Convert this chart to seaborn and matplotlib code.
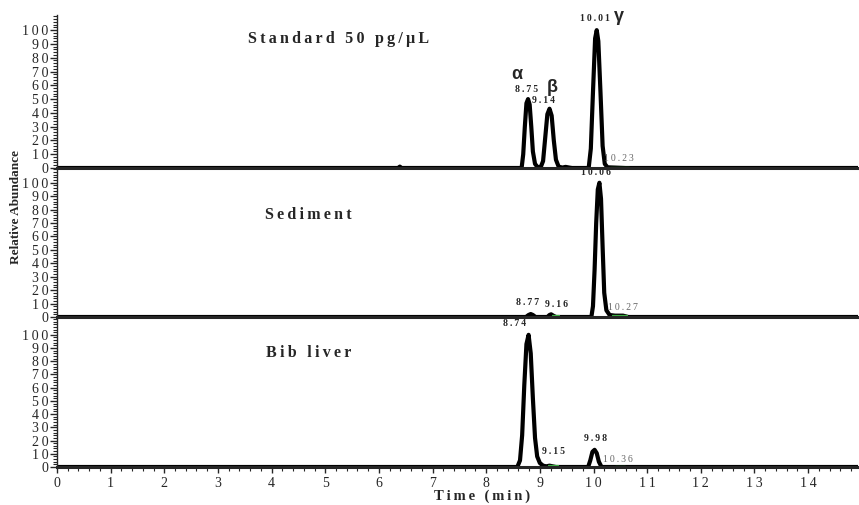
import matplotlib
matplotlib.use('Agg')
import matplotlib.pyplot as plt
import seaborn as sns
from matplotlib.ticker import MultipleLocator

# Dados dos cromatogramas (tempo em min, abundancia relativa em %)
std_time = [0.0, 6.36, 6.39, 6.42, 8.66, 8.69, 8.72, 8.75, 8.78, 8.81, 8.84, 8.87, 8.91, 8.96,
            9.02, 9.06, 9.10, 9.14, 9.18, 9.22, 9.26, 9.30, 9.35, 9.42, 9.48, 9.55, 9.60,
            9.91, 9.95, 9.99, 10.03, 10.06, 10.09, 10.13, 10.17, 10.21, 10.26, 10.40, 10.60, 14.95]
std_abund = [0, 0, 1, 0, 0, 10, 30, 47, 50, 46, 30, 12, 3, 0.5,
             1, 5, 22, 39, 43, 38, 20, 6, 1, 0.3, 0.8, 0.3, 0,
             0, 14, 55, 94, 100, 92, 55, 16, 3, 0.5, 0.3, 0, 0]

sed_time = [0.0, 8.74, 8.79, 8.83, 8.87, 8.92, 9.14, 9.18, 9.21, 9.25, 9.30,
            9.96, 9.99, 10.02, 10.05, 10.08, 10.11, 10.14, 10.17, 10.20, 10.24, 10.30,
            10.40, 10.55, 10.65, 14.95]
sed_abund = [0, 0, 1.5, 2.2, 1.5, 0, 0, 1.5, 2, 1, 0,
             0, 8, 35, 70, 95, 100, 88, 52, 18, 5, 1.5,
             1, 1, 0, 0]

bib_time = [0.0, 8.58, 8.63, 8.67, 8.71, 8.75, 8.79, 8.83, 8.87, 8.91, 8.95, 9.00, 9.06,
            9.12, 9.18, 9.24, 9.30, 9.90, 9.94, 9.98, 10.02, 10.06, 10.10, 10.15, 14.95]
bib_abund = [0, 0, 5, 24, 62, 93, 100, 86, 52, 22, 8, 3, 1,
             0.5, 1, 0.5, 0, 0, 5, 11.5, 13, 10.5, 4, 0, 0]

amostras = ['Standard 50 pg/μL', 'Sediment', 'Bib liver']

# rotulos dos picos: (tempo, altura, texto)
picos = [
    [(8.76, 54, '8.75'), (9.06, 46, '9.14'), (10.02, 105, '10.01')],
    [(10.04, 104, '10.06'), (8.78, 7.5, '8.77'), (9.31, 6, '9.16')],
    [(8.53, 105, '8.74'), (9.26, 8, '9.15'), (10.03, 18, '9.98')],
]
# rotulos pequenos em cinza com linha verde
menores = [(10.48, 3.5, '10.23'), (10.55, 4, '10.27'), (10.45, 2, '10.36')]
verdes = [
    [(10.30, 10.66, 1.0)],
    [(9.22, 9.36, 1.5), (10.35, 10.63, 1.5)],
    [(9.16, 9.33, 1.5), (10.40, 10.58, 1.0)],
]


def espacar(s, sep='\u2009'):
    # imita o espacamento entre letras do original
    return sep.join(s)


sns.set_style('ticks')
plt.rcParams['font.family'] = ['Liberation Serif', 'DejaVu Serif']

fig = plt.figure(figsize=(8.59, 5.05), dpi=100)
W, H = 859, 505
left, right = 57, 858
paineis = [(15, 168), (168, 317), (317, 467)]
ytops = [111, 111, 113.5]
dados = [(std_time, std_abund), (sed_time, sed_abund), (bib_time, bib_abund)]
axes = []
for i, (top, bot) in enumerate(paineis):
    ax = fig.add_axes([left / W, 1 - bot / H, (right - left) / W, (bot - top) / H])
    ax.patch.set_alpha(0)
    t, a = dados[i]
    sns.lineplot(x=t, y=a, ax=ax, color='black', linewidth=3.0, estimator=None,
                 sort=False)
    ax.set_xlim(0, 14.93)
    ax.set_ylim(0, ytops[i])
    ax.set_xlabel('')
    ax.set_ylabel('')
    for s in ['top', 'right']:
        ax.spines[s].set_visible(False)
    ax.spines['bottom'].set_linewidth(2.2)
    ax.spines['left'].set_linewidth(1.0)
    ax.yaxis.set_minor_locator(MultipleLocator(2))
    ax.set_yticks(range(0, 101, 10))
    ax.set_yticklabels([espacar(str(v)) for v in range(0, 101, 10)], fontsize=10)
    ax.tick_params(axis='y', which='major', length=5, width=1, pad=1)
    ax.tick_params(axis='y', which='minor', length=3, width=0.8)
    ax.xaxis.set_minor_locator(MultipleLocator(0.2))
    ax.set_xticks(range(0, 15))
    if i < 2:
        ax.tick_params(axis='x', which='both', length=0, labelbottom=False)
    else:
        ax.set_xticklabels([espacar(str(v)) for v in range(0, 15)], fontsize=10)
        ax.tick_params(axis='x', which='major', length=4, width=1, pad=3)
        ax.tick_params(axis='x', which='minor', length=3, width=0.8)
    for x0, x1, yv in verdes[i]:
        ax.plot([x0, x1], [yv, yv], color='#3cb043', linewidth=0.9)
    for x, y, txt in picos[i]:
        ax.text(x, y, espacar(txt), ha='center', va='bottom', fontsize=7,
                fontweight='bold', clip_on=False)
    x, y, txt = menores[i]
    ax.text(x, y, espacar(txt), ha='center', va='bottom', fontsize=7, color='#666666')
    axes.append(ax)

titulo_y = [88, 70, 80]
titulo_x = [3.56, 3.87, 3.9]
for ax, nome, x, y in zip(axes, amostras, titulo_x, titulo_y):
    ax.text(x, y, espacar(nome), fontsize=11.5, fontweight='bold', va='bottom')

# letras gregas dos isomeros
for x, y, g in [(8.57, 62, 'α'), (9.24, 52, 'β'), (10.47, 104, 'γ')]:
    axes[0].text(x, y, g, fontsize=13, fontweight='bold', ha='center', va='bottom',
                 family=['Liberation Sans', 'DejaVu Sans'], clip_on=False)

fig.text(16 / W, 1 - 207 / H, 'Relative Abundance', rotation=90, ha='center',
         va='center', fontsize=9.5, fontweight='bold')
fig.text(482 / W, 1 - 496 / H, espacar('Time (min)'), ha='center', va='center',
         fontsize=10.5, fontweight='bold')

plt.savefig('out.png', dpi=100)
